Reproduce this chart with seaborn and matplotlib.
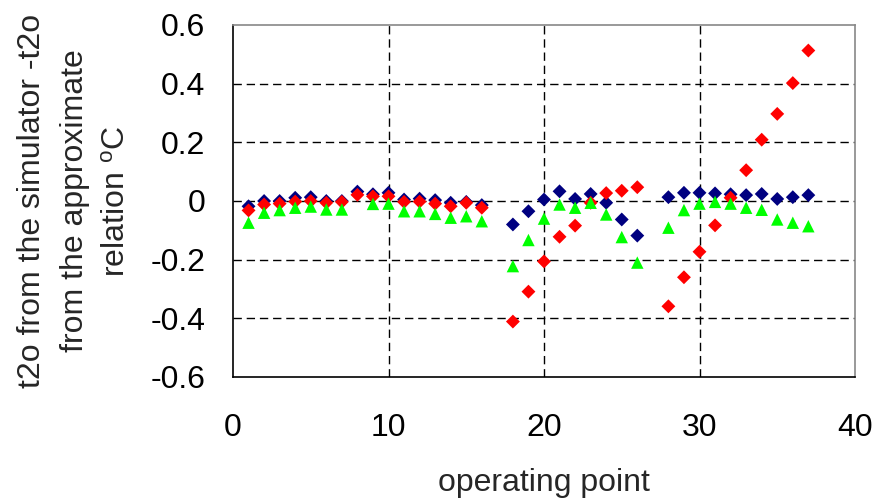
import numpy as np
import pandas as pd
import matplotlib
matplotlib.use("Agg")
import matplotlib.pyplot as plt
import seaborn as sns

nan = np.nan
points = list(range(1, 38))
blue = [-0.018, 0.0, 0.0, 0.011, 0.013, 0.0, 0.0, 0.032, 0.023, 0.028,
        0.005, 0.008, 0.003, -0.006, -0.003, -0.014, nan, -0.08, -0.035, 0.005,
        0.033, 0.007, 0.024, -0.006, -0.063, -0.118, nan, 0.013, 0.028, 0.028,
        0.026, 0.023, 0.02, 0.024, 0.007, 0.013, 0.02]
red = [-0.032, -0.012, -0.009, -0.002, 0.0, -0.006, -0.003, 0.021, 0.016, 0.016,
       -0.003, -0.002, -0.009, -0.018, -0.006, -0.023, nan, -0.411, -0.309, -0.206,
       -0.122, -0.084, -0.006, 0.027, 0.035, 0.047, nan, -0.359, -0.26, -0.173,
       -0.083, 0.011, 0.105, 0.209, 0.297, 0.402, 0.513]
green = [-0.074, -0.04, -0.031, -0.023, -0.019, -0.029, -0.029, nan, -0.01, -0.009,
         -0.035, -0.035, -0.044, -0.057, -0.052, -0.069, nan, -0.222, -0.133, -0.06,
         -0.012, -0.023, -0.006, -0.046, -0.123, -0.21, nan, -0.091, -0.031, -0.009,
         -0.003, -0.009, -0.023, -0.03, -0.063, -0.074, -0.086]
series_names = ["blue", "red", "green"]
x_ticks = [0, 10, 20, 30, 40]
y_ticks = [-0.6, -0.4, -0.2, 0, 0.2, 0.4, 0.6]
y_tick_labels = ["-0.6", "-0.4", "-0.2", "0", "0.2", "0.4", "0.6"]

frames = []
for name, vals in zip(series_names, [blue, red, green]):
    frames.append(pd.DataFrame({"point": points, "value": vals, "series": name}))
df = pd.concat(frames, ignore_index=True).dropna()

sns.set_style("white")
plt.rcParams["font.family"] = ["Liberation Sans", "DejaVu Sans"]
plt.rcParams["mathtext.fontset"] = "custom"
plt.rcParams["mathtext.rm"] = "Liberation Sans"
plt.rcParams["mathtext.it"] = "Liberation Sans"

fig = plt.figure(figsize=(8.76, 5.0), dpi=100)
ax = fig.add_axes([233 / 876, 1 - 377 / 500, (855 - 233) / 876, (377 - 25) / 500])

palette = {"blue": "#000080", "red": "#FF0000", "green": "#00FF00"}
markers = {"blue": "D", "red": "D", "green": "^"}
sizes = {"blue": 50, "red": 50, "green": 80}
sns.scatterplot(data=df, x="point", y="value", hue="series", style="series",
                size="series", sizes=sizes,
                palette=palette, markers=markers, linewidth=0,
                legend=False, ax=ax, zorder=3)

ax.set_xlim(0, 40)
ax.set_ylim(-0.6, 0.6)
ax.set_xticks(x_ticks)
ax.set_yticks(y_ticks)
ax.set_yticklabels(y_tick_labels)

for v in [10, 20, 30]:
    ax.axvline(v, color="black", lw=1, ls=(0, (6, 3.5)), zorder=1)
for v in [-0.4, -0.2, 0, 0.2, 0.4]:
    ax.axhline(v, color="black", lw=1, ls=(0, (6, 3.5)), zorder=1)

for side in ["left", "bottom"]:
    ax.spines[side].set_color("black")
    ax.spines[side].set_linewidth(1.2)
for side in ["top", "right"]:
    ax.spines[side].set_color("#888888")
    ax.spines[side].set_linewidth(1.2)

ax.tick_params(axis="both", direction="out", length=8, width=1, labelsize=23,
               colors="black")
ax.tick_params(axis="y", pad=12)
ax.tick_params(axis="x", pad=18)

ax.set_xlabel("operating point", fontsize=23, labelpad=18)
ax.set_ylabel("t2o from the simulator -t2o\nfrom the approximate\nrelation $^{\\mathrm{o}}$C",
              fontsize=23, labelpad=13, linespacing=1.55)

fig.savefig("out.png", dpi=100)
